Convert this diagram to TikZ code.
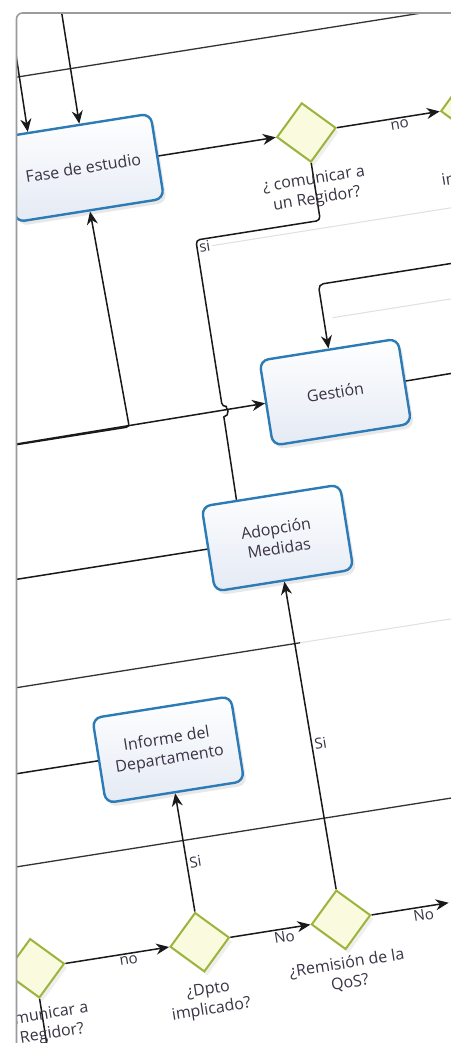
\documentclass[tikz,border=0pt]{standalone}
\usepackage{fontspec}
\setmainfont{Open Sans}
\usetikzlibrary{shapes,arrows.meta,positioning,calc,shadows}
\definecolor{taskblue}{HTML}{2C7BB6}
\definecolor{taskfill}{HTML}{E4EAF4}
\definecolor{gateline}{HTML}{9CB43C}
\definecolor{gatefill}{HTML}{FAFADF}
\definecolor{txt}{HTML}{3A3344}
\definecolor{framegray}{HTML}{9B9B9B}

\begin{document}
\begin{tikzpicture}[x=1pt, y=1pt,
    task/.style={draw=taskblue, line width=2.4pt, rounded corners=9pt, top color=white, bottom color=taskfill, minimum width=140pt, minimum height=86pt, align=center, text=txt, font=\fontsize{16}{20}\selectfont, drop shadow={opacity=0.18, shadow xshift=3pt, shadow yshift=-4pt}},
    gate/.style={diamond, draw=gateline, line width=2pt, fill=gatefill, minimum width=60pt, minimum height=60pt, inner sep=0pt, drop shadow={opacity=0.12, shadow xshift=3pt, shadow yshift=-4pt}},
    lbl/.style={text=txt, align=center, font=\fontsize{16}{20}\selectfont},
    elbl/.style={text=txt, inner sep=2pt, font=\fontsize{15}{18}\selectfont},
    arr/.style={-{Stealth[length=13pt, width=11pt]}, line width=1.5pt, draw=black!90},
    flow/.style={line width=1.5pt, draw=black!90},
    lane/.style={line width=1.3pt, draw=black!80},
    faint/.style={line width=1pt, draw=black!12}
  ]
  \useasboundingbox (0,0) rectangle (450,-1043);
  \fill[white] (0,0) rectangle (450,-1043);
  \begin{scope}
    \clip[rounded corners=6pt] (17,-1060) -- (17,-14) -- (470,-14) -- (470,-1060) -- cycle;
    \begin{scope}[shift={(225,-520)}, rotate=9, transform shape]
      \draw[lane] (-400,470) -- (400,470);
      \draw[lane] (-400,-133) -- (55,-133);
      \draw[faint] (55,-133) -- (400,-133);
      \draw[lane] (-400,-310) -- (400,-310);
      \draw[faint] (30,273) -- (400,273);
      \draw[faint] (138,183) -- (400,183);

      \node[task, minimum width=150pt] (fase) at (-85,370) {Fase de estudio};
      \node[gate] (regidor) at (141,370) {};
      \node[gate] (dptoA) at (307,370) {};
      \node[task] (gestion) at (129,109) {Gestión};
      \node[task] (adopcion) at (49,-26) {Adopción\\Medidas};
      \node[task] (informe) at (-92,-218) {Informe del\\Departamento};
      \node[gate] (regidorB) at (-258,-413) {};
      \node[gate] (dpto) at (-91,-413) {};
      \node[gate] (qos) at (52,-413) {};

      \coordinate (in1) at (-82,600);
      \coordinate (in2) at (-133,600);
      \coordinate (in3) at (-320,107);
      \coordinate (out1) at (320,218);
      \coordinate (out2) at (320,110);
      \coordinate (out3) at (-320,-26);
      \coordinate (out4) at (-320,-218);
      \coordinate (out5) at (-258,-600);
      \coordinate (out6) at (161,-413);

      \draw[arr] (in1) -- (fase.86);
      \draw[arr] (in2) -- (fase.138);
      \draw[arr, rounded corners=3pt] (in3) -- (-80,107) -- (fase.south);
      \draw[arr] (in3) -- (gestion.west);
      \draw[arr, rounded corners=5pt] (out1) -- (129,218) -- (gestion.north);
      \draw[flow] (gestion.east) -- (out2);
      \draw[arr] (fase.east) -- (regidor.west);
      \draw[arr] (regidor.east) -- node[elbl, below, pos=0.6] (no1) {no} (dptoA.west);
      \draw[flow] (regidor.south) [rounded corners=4pt] -- (141,281) -- (15,281)
        -- (15,112) [sharp corners] arc[start angle=90, end angle=-90, radius=5] -- (adopcion.128);
      \node[elbl, anchor=north west] (si1) at (15,281) {si};
      \draw[arr] (qos.north) -- node[elbl, right, pos=0.47] (si2) {Si} (adopcion.south);
      \draw[arr] (dpto.north) -- node[elbl, right, pos=0.41] (si3) {Si} (informe.south);
      \draw[arr] (regidorB.east) -- node[elbl, below, pos=0.6] (no2) {no} (dpto.west);
      \draw[arr] (dpto.east) -- node[elbl, below, pos=0.66] (no3) {No} (qos.west);
      \draw[arr] (qos.east) -- node[elbl, below, pos=0.66] (no4) {No} (out6);
      \draw[flow] (regidorB.south) -- (out5);
      \draw[flow] (adopcion.west) -- (out3);
      \draw[flow] (informe.west) -- (out4);

      \node[lbl] (regidor-l) at (141,312) {¿ comunicar a\\un Regidor?};
      \node[lbl] (dptoA-l) at (307,310) {¿Dpto\\implicado?};
      \node[lbl] (regidorB-l) at (-263,-471) {¿ comunicar a\\un Regidor?};
      \node[lbl] (dpto-l) at (-90,-472) {¿Dpto\\implicado?};
      \node[lbl] (qos-l) at (51,-467) {¿Remisión de la\\QoS?};
    \end{scope}
  \end{scope}
  \draw[framegray, line width=1.6pt, rounded corners=6pt] (16.5,-1060) -- (16.5,-13) -- (470,-13);
\end{tikzpicture}
\end{document}
